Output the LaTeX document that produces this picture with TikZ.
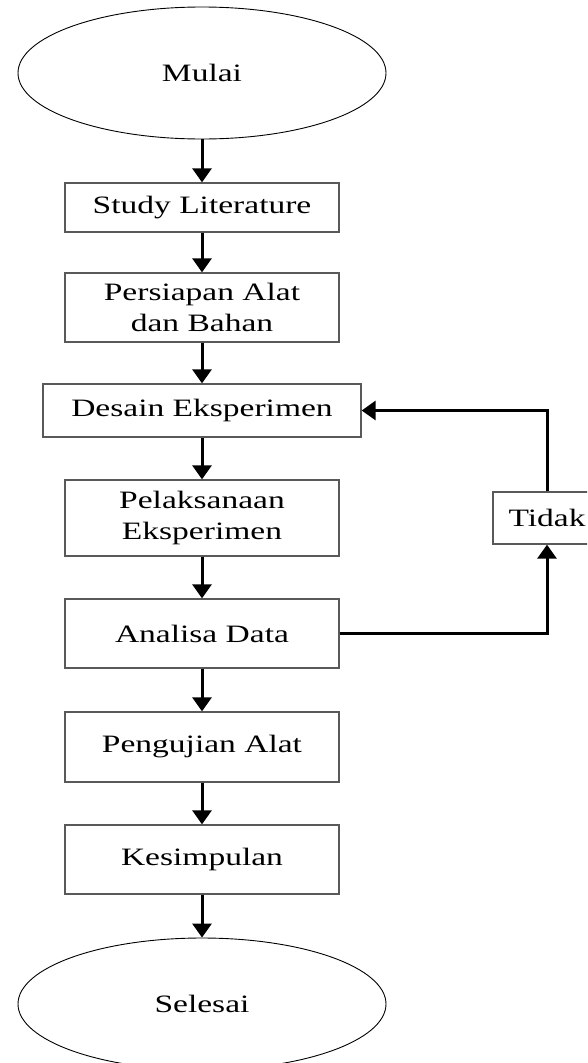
\documentclass[tikz,border=0pt]{standalone}
\usepackage{fontspec}
\setmainfont{Liberation Serif}[FakeStretch=1.34]
\usepackage{tikz}
\usetikzlibrary{shapes.geometric, arrows.meta}

\begin{document}
\begin{tikzpicture}[x=1pt, y=-1pt,
    every node/.style={font=\fontsize{25}{31}\selectfont, align=center, inner sep=0pt},
    terminal/.style={draw=black, line width=0.9pt, ellipse, minimum width=368pt, minimum height=132pt},
    process/.style={draw=black!65, line width=1.3pt, rectangle, minimum width=274pt},
    arr/.style={line width=3pt, -{Triangle[width=19pt, length=14pt]}}]
    % Define frame
    \clip (0,0) rectangle (587,1063);
    
    % Define points
    \coordinate (M) at (202,73);
    \coordinate (S) at (202,1004);
    
    % Start and end
    \node[terminal] (mulai) at (M) {Mulai};
    \node[terminal] (selesai) at (S) {Selesai};
    
    % Process boxes
    \node[process, minimum height=49pt] (study) at (202,207.5) {Study Literature};
    \node[process, minimum height=69pt] (persiapan) at (202,307.5) {Persiapan Alat\\dan Bahan};
    \node[process, minimum height=53pt, minimum width=318pt] (desain) at (202,410.5) {Desain Eksperimen};
    \node[process, minimum height=76pt] (pelaksanaan) at (202,518) {Pelaksanaan\\Eksperimen};
    \node[process, minimum height=69pt] (analisa) at (202,633.5) {Analisa Data};
    \node[process, minimum height=70pt] (pengujian) at (202,747) {Pengujian Alat};
    \node[process, minimum height=69pt] (kesimpulan) at (202,859.5) {Kesimpulan};
    \node[process, minimum height=52pt, minimum width=108pt] (tidak) at (547,518) {Tidak};
    
    % Draw main flow
    \draw[arr] (mulai) -- (study);
    \draw[arr] (study) -- (persiapan);
    \draw[arr] (persiapan) -- (desain);
    \draw[arr] (desain) -- (pelaksanaan);
    \draw[arr] (pelaksanaan) -- (analisa);
    \draw[arr] (analisa) -- (pengujian);
    \draw[arr] (pengujian) -- (kesimpulan);
    \draw[arr] (kesimpulan) -- (selesai);
    
    % Draw loop back
    \draw[arr] (analisa.east) -| (tidak.south);
    \draw[arr] (tidak.north) |- (desain.east);
\end{tikzpicture}
\end{document}
